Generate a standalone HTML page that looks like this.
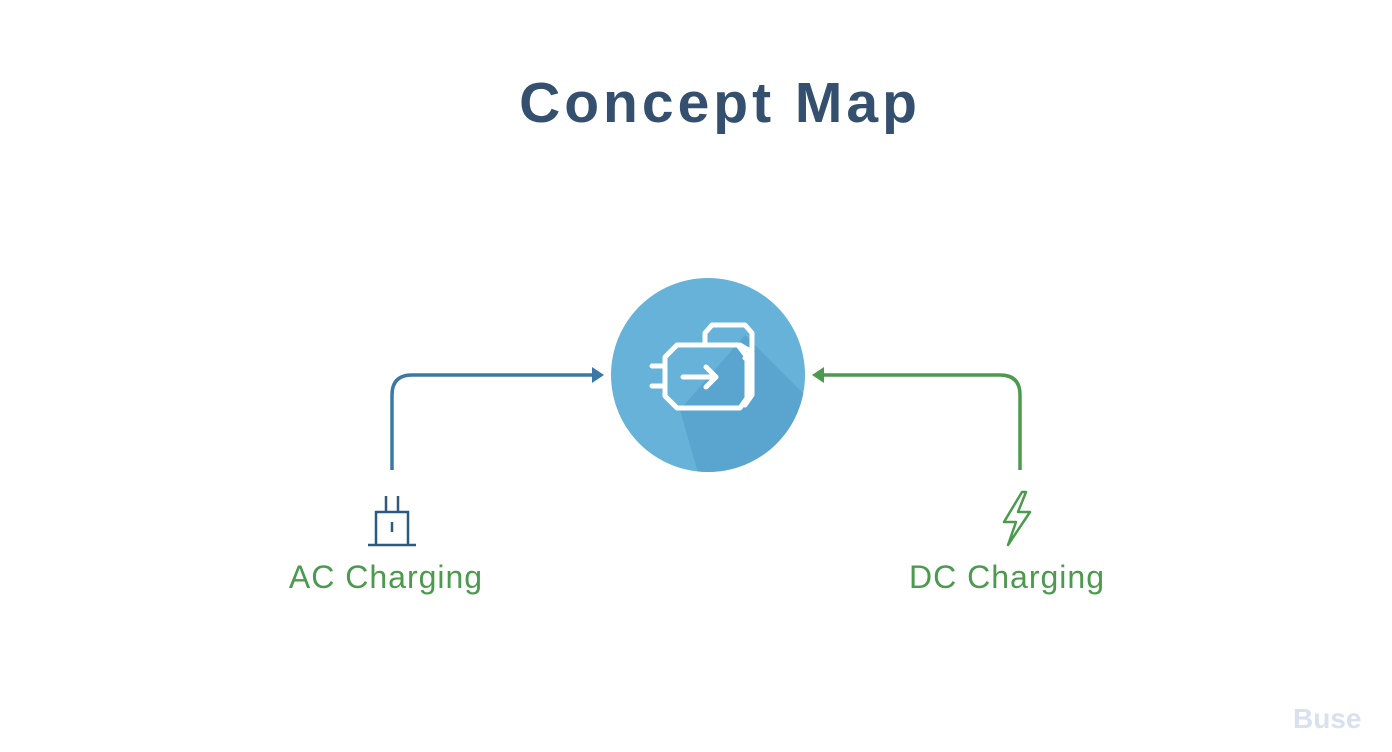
<!DOCTYPE html>
<html><head><style>
body{margin:0;width:1392px;height:752px;background:#fff;overflow:hidden;position:relative;font-family:"Liberation Sans",sans-serif}
.t{position:absolute;white-space:nowrap}
</style></head><body>
<div class="t" style="left:500px;top:70px;width:440px;text-align:center;font-size:57px;font-weight:bold;color:#34506e;letter-spacing:4px">Concept Map</div>
<div class="t" style="left:267px;top:559px;width:238px;text-align:center;font-size:32px;color:#4b9a4e;letter-spacing:1px">AC Charging</div>
<div class="t" style="left:886px;top:559px;width:242px;text-align:center;font-size:32px;color:#4b9a4e;letter-spacing:1px">DC Charging</div>
<div class="t" style="left:1293px;top:703px;font-size:28px;font-weight:bold;color:#d8e1ee">Buse</div>
<svg width="1392" height="752" style="position:absolute;left:0;top:0">
<defs><clipPath id="c"><circle cx="708" cy="375" r="97"/></clipPath></defs>
<circle cx="708" cy="375" r="97" fill="#66b2d8"/>
<polygon points="745,335 830,420 780,500 700,480 680,410" fill="#5aa5cf" clip-path="url(#c)"/>
<g fill="none" stroke="#fff" stroke-width="5" stroke-linejoin="round" stroke-linecap="round">
<path d="M677,345 L738,345 L747,357 L747,398 L740,408 L677,408 L665,396 L665,357 Z"/>
<path d="M705,345 L705,333 L712,325 L745,325 L752,333 L752,350 L745,358"/>
<path d="M740,345 L752,352 L752,395 L745,405"/>
<path d="M652,366 L664,366 M652,386 L664,386"/>
<path d="M683,377 L716,377 M706,367 L716,377 L706,387"/>
</g>
<g fill="none" stroke="#3c78a6" stroke-width="3.5">
<path d="M392,470 L392,395 Q392,375 412,375 L596,375"/>
</g>
<polygon points="604,375 592,367 592,383" fill="#3c78a6"/>
<g fill="none" stroke="#4b9a4e" stroke-width="3.5">
<path d="M1020,470 L1020,395 Q1020,375 1000,375 L820,375"/>
</g>
<polygon points="812,375 824,367 824,383" fill="#4b9a4e"/>
<g fill="none" stroke="#2f5a80" stroke-width="2.5">
<path d="M386,496 L386,512 M398,496 L398,512 M376,512 L408,512 L408,545 L376,545 Z M368,545 L416,545 M392,522 L392,532"/>
</g>
<path d="M1022,492 L1004,522 L1016,522 L1008,545 L1030,512 L1018,512 L1026,492 Z" fill="none" stroke="#4b9a4e" stroke-width="2.5" stroke-linejoin="round"/>
</svg>
</body></html>
